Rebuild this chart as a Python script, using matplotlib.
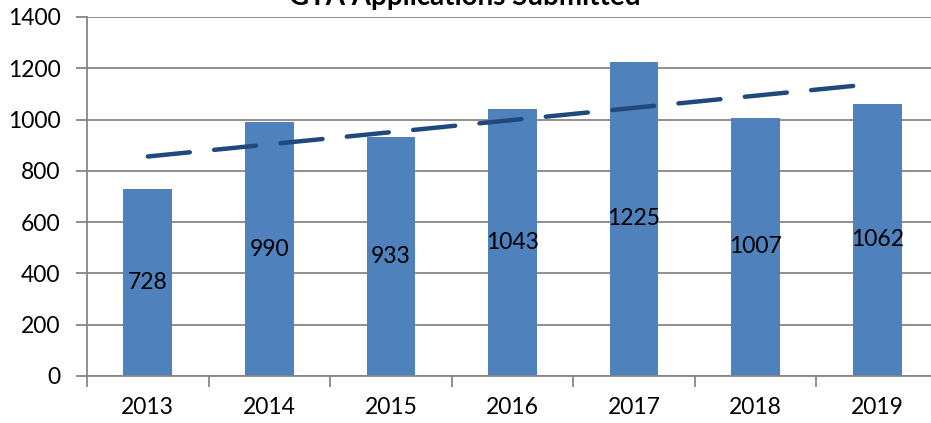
import numpy as np
import matplotlib
matplotlib.use("Agg")
import matplotlib.pyplot as plt

years = ["2013", "2014", "2015", "2016", "2017", "2018", "2019"]
applications = [728, 990, 933, 1043, 1225, 1007, 1062]

plt.rcParams["font.family"] = ["Lato", "DejaVu Sans"]

fig = plt.figure(figsize=(9.31, 4.23), dpi=100)
# axes runs a little past the right edge, as in the cropped original
ax = fig.add_axes([87 / 931, 1 - 376 / 423, 851 / 931, 359 / 423])

x = np.arange(len(years))
bars = ax.bar(x, applications, width=0.4, color="#4F81BD", zorder=2)

for xi, val in zip(x, applications):
    ax.text(xi, val / 2, str(val), ha="center", va="center", fontsize=16.5, color="black", zorder=3)

# linear trendline
coef = np.polyfit(x, applications, 1)
trend = np.polyval(coef, x)
ax.plot(x, trend, color="#1F497D", linewidth=3.2, linestyle=(0, (9.5, 5.5)),
        dash_capstyle="round", zorder=4)

ax.set_xlim(-0.5, len(years) - 0.5)
ax.set_ylim(0, 1400)
ax.set_yticks(range(0, 1401, 200))
ax.yaxis.grid(True, color="#868686", linewidth=1.3, zorder=0)
ax.set_axisbelow(True)

ax.set_xticks(x)
ax.set_xticklabels(years, fontsize=16.5)
ax.set_xticks(np.arange(-0.5, len(years) + 0.5, 1), minor=True)
ax.tick_params(axis="x", which="major", length=0, pad=15)
ax.tick_params(axis="x", which="minor", length=8, width=1.3, color="#868686")
ax.tick_params(axis="y", length=8, width=1.3, color="#868686", labelsize=16.5, pad=11)

for side in ["top", "right"]:
    ax.spines[side].set_visible(False)
for side in ["left", "bottom"]:
    ax.spines[side].set_color("#868686")
    ax.spines[side].set_linewidth(1.3)

fig.text(465 / 931, 1 - 5 / 423, "GTA Applications Submitted", ha="center", va="baseline",
         fontsize=20, fontweight="bold")

plt.savefig("out.png", dpi=100)
